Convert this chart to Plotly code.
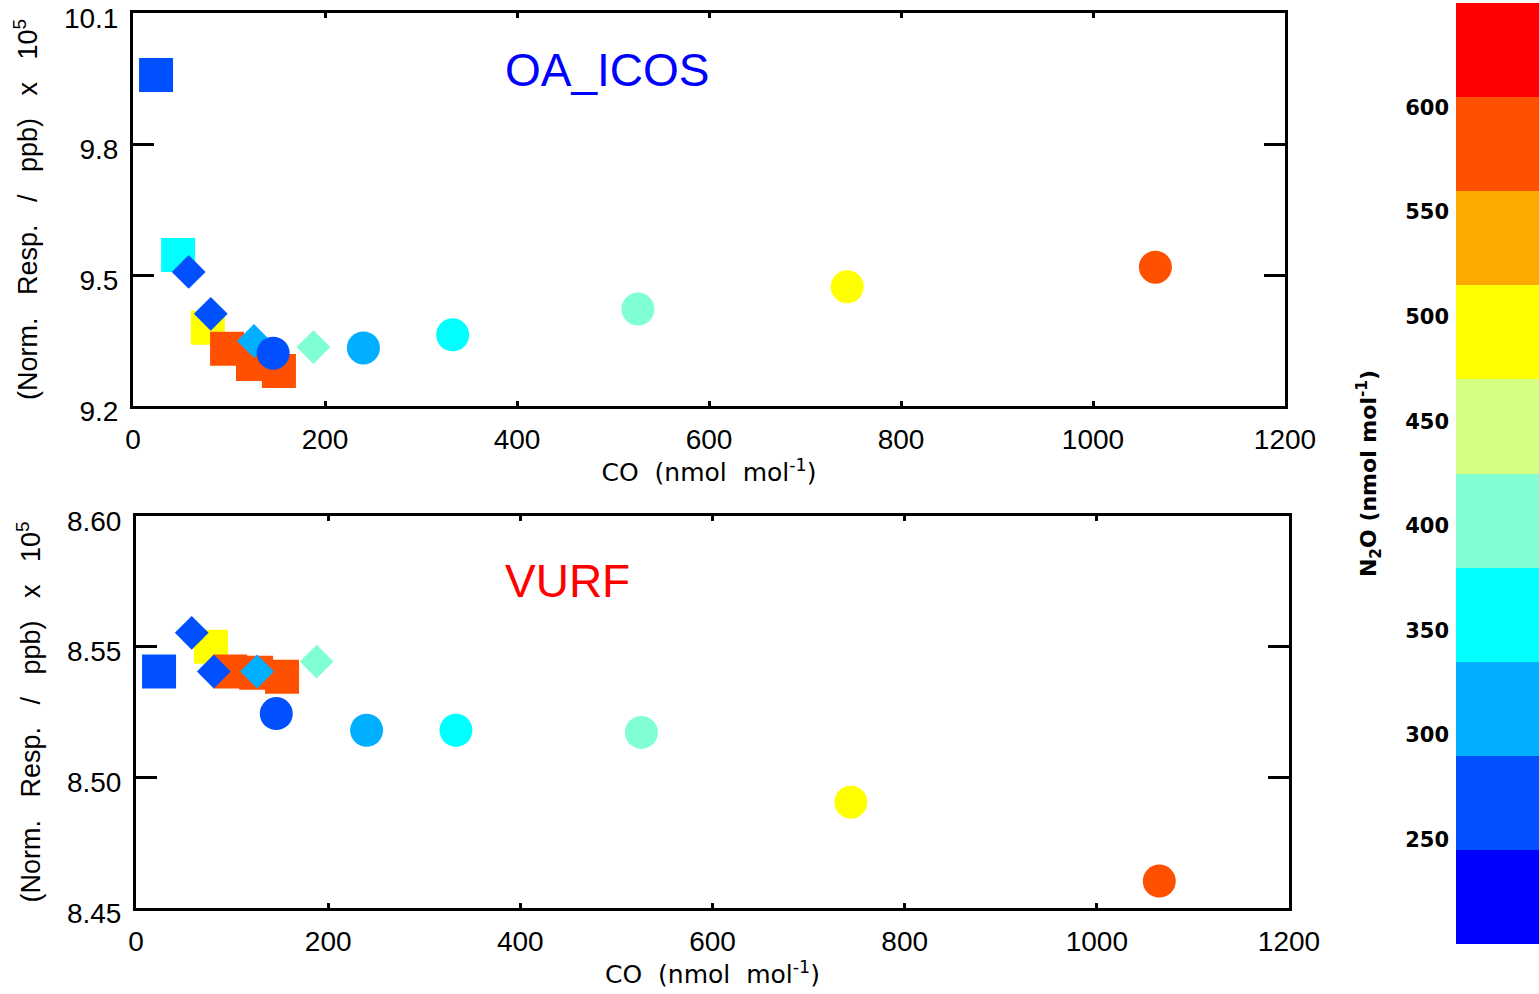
import plotly.graph_objects as go

# --- N2O colour bands (nmol mol-1) ---
band_edges = [200, 245, 290, 335, 380, 425, 470, 515, 560, 605, 650]
band_colors = ["#0000FF", "#0050FF", "#00AFFF", "#00FFFF", "#80FFD4",
               "#D4FF80", "#FFFF00", "#FFAA00", "#FF5000", "#FF0000"]
cbar_ticks = [250, 300, 350, 400, 450, 500, 550, 600]

# --- squares ---
sq_co = [24, 47, 78, 98, 125, 152]
sq_n2o = [265, 355, 490, 580, 580, 580]
sq_oa = [9.958, 9.546, 9.379, 9.331, 9.296, 9.280]
sq_vurf = [8.5405, None, 8.550, 8.5405, 8.540, 8.5385]

# --- diamonds ---
dm_co = [58, 81, 126, 188]
dm_n2o = [265, 265, 310, 400]
dm_oa = [9.507, 9.411, 9.349, 9.335]
dm_vurf = [8.5553, 8.5405, 8.5405, 8.5443]

# --- circles ---
ci_co = [146, 240, 333, 526, 744, 1065]
ci_n2o = [265, 310, 355, 400, 495, 580]
ci_oa = [9.321, 9.333, 9.363, 9.422, 9.473, 9.518]
ci_vurf = [8.5244, 8.518, 8.518, 8.5172, 8.4905, 8.4603]

oa_ticks = [9.2, 9.5, 9.8, 10.1]
vurf_ticks = [8.45, 8.50, 8.55, 8.60]
co_ticks = [0, 200, 400, 600, 800, 1000, 1200]

# discrete colour scale built from the bands
lo, hi = band_edges[0], band_edges[-1]
colorscale = []
for i, c in enumerate(band_colors):
    colorscale.append([(band_edges[i] - lo) / (hi - lo), c])
    colorscale.append([(band_edges[i + 1] - lo) / (hi - lo), c])

W, H = 1539, 994
fig = go.Figure()


def add_panel(xa, ya, ys):
    sets = [
        (sq_co, sq_n2o, ys[0], "square", 34),
        (dm_co, dm_n2o, ys[1], "diamond", 26),
        (ci_co, ci_n2o, ys[2], "circle", 33),
    ]
    for co, n2o, yv, sym, size in sets:
        fig.add_trace(go.Scatter(
            x=co, y=yv, mode="markers", xaxis=xa, yaxis=ya, showlegend=False,
            marker=dict(symbol=sym, size=size, color=n2o, colorscale=colorscale,
                        cmin=lo, cmax=hi, line=dict(width=0)),
        ))


add_panel("x", "y", (sq_oa, dm_oa, ci_oa))
add_panel("x2", "y2", (sq_vurf, dm_vurf, ci_vurf))

# colour bar drawn as a one-column heatmap
fig.add_trace(go.Heatmap(
    x=[0, 1], y=band_edges, z=[[(band_edges[i] + band_edges[i + 1]) / 2] for i in range(10)],
    colorscale=colorscale, zmin=lo, zmax=hi, showscale=False,
    xaxis="x3", yaxis="y3", hoverinfo="skip",
))

tick_font = dict(family="Liberation Sans, Arial, sans-serif", size=28, color="black")
title_font = dict(family="Liberation Sans, Arial, sans-serif", size=27, color="black")
xtitle_font = dict(family="DejaVu Sans, sans-serif", size=25, color="black")
sp = "\u00a0\u00a0\u00a0"
ytitle = "(Norm." + sp + "Resp." + sp + "/" + sp + "ppb)" + sp + "x" + sp + "10<sup>5</sup>"
xtitle = "CO\u00a0\u00a0(nmol\u00a0\u00a0mol<sup>-1</sup>)"

common_x = dict(range=[0, 1200], tickvals=co_ticks, ticks="inside", ticklen=5, tickwidth=3,
                tickcolor="black", showline=True, linewidth=3, linecolor="black",
                mirror="ticks", showgrid=False, zeroline=False, tickfont=tick_font,
                automargin=False, ticklabelstandoff=6, ticklabeloverflow="allow",
                title=dict(text=xtitle, font=xtitle_font, standoff=8))
common_y = dict(ticks="inside", ticklen=21, tickwidth=3, tickcolor="black", showline=True,
                linewidth=3, linecolor="black", mirror="ticks", showgrid=False,
                zeroline=False, tickfont=tick_font, ticklabelstandoff=6, automargin=False,
                ticklabeloverflow="allow", ticklabelshift=5,
                title=dict(text=ytitle, font=title_font, standoff=19))

fig.update_layout(
    width=W, height=H, margin=dict(l=0, r=0, t=0, b=0, autoexpand=False),
    paper_bgcolor="white", plot_bgcolor="white",
    xaxis=dict(domain=[133 / W, 1285 / W], anchor="y", **common_x),
    yaxis=dict(domain=[1 - 406 / H, 1 - 13 / H], anchor="x", range=[9.2, 10.1],
               tickvals=oa_ticks, ticktext=["9.2", "9.5", "9.8", "10.1"], **common_y),
    xaxis2=dict(domain=[136 / W, 1289 / W], anchor="y2", **common_x),
    yaxis2=dict(domain=[1 - 908 / H, 1 - 516 / H], anchor="x2", range=[8.45, 8.60],
                tickvals=vurf_ticks, tickformat=".2f", **common_y),
    xaxis3=dict(domain=[1456 / W, 1.0], anchor="y3", range=[0, 1], visible=False,
                automargin=False),
    yaxis3=dict(domain=[1 - 944 / H, 1 - 3 / H], anchor="x3", range=[lo, hi],
                tickvals=cbar_ticks, ticks="", showline=False, showgrid=False,
                zeroline=False, side="left", ticklabelstandoff=6, automargin=False,
                tickfont=dict(family="DejaVu Sans, sans-serif", size=21, color="black",
                              weight="bold"),
                title=dict(text="N<sub>2</sub>O (nmol mol<sup>-1</sup>)", standoff=22,
                           font=dict(family="DejaVu Sans, sans-serif", size=22,
                                     color="black", weight="bold"))),
    annotations=[
        dict(text="OA_ICOS", xref="x domain", yref="y domain", x=0.412, y=0.855,
             xanchor="center", yanchor="middle", showarrow=False,
             font=dict(family="Liberation Sans, Arial, sans-serif", size=46, color="#0000FF")),
        dict(text="VURF", xref="x2 domain", yref="y2 domain", x=0.374, y=0.834,
             xanchor="center", yanchor="middle", showarrow=False,
             font=dict(family="Liberation Sans, Arial, sans-serif", size=46, color="#FF0000")),
    ],
)

fig.write_html("out.html")
